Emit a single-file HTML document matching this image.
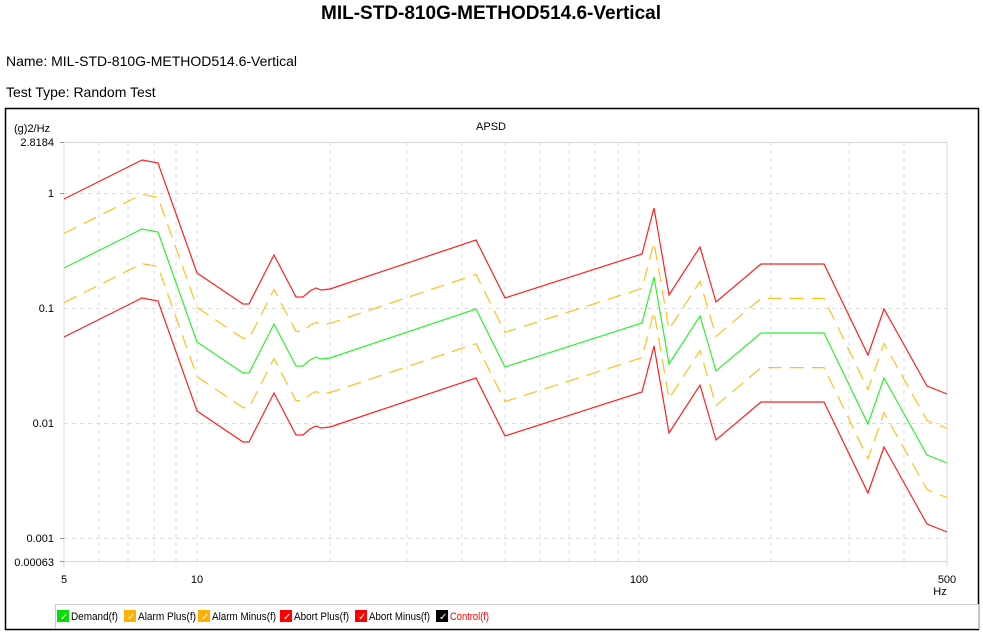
<!DOCTYPE html>
<html><head><meta charset="utf-8"><style>
body{margin:0;background:#fff;width:983px;height:632px;overflow:hidden;font-family:"Liberation Sans",sans-serif}
</style></head><body>
<svg width="983" height="632" xmlns="http://www.w3.org/2000/svg" font-family="Liberation Sans, sans-serif">
<text x="491" y="19" text-anchor="middle" font-size="19" font-weight="bold">MIL-STD-810G-METHOD514.6-Vertical</text>
<text x="6" y="66" font-size="14">Name: MIL-STD-810G-METHOD514.6-Vertical</text>
<text x="6" y="97" font-size="14">Test Type: Random Test</text>
<rect x="5.5" y="108.5" width="973" height="521" fill="none" stroke="#000" stroke-width="1.5"/>
<text x="491" y="130" text-anchor="middle" font-size="11">APSD</text>
<text x="14" y="132" font-size="11">(g)2/Hz</text>
<g font-size="11" text-anchor="end">
<text x="54" y="146">2.8184</text><text x="54" y="197">1</text><text x="54" y="312">0.1</text><text x="54" y="427">0.01</text><text x="54" y="542">0.001</text><text x="54" y="566">0.00063</text>
</g>
<g font-size="11" text-anchor="middle">
<text x="64" y="583">5</text><text x="197" y="583">10</text><text x="639" y="583">100</text><text x="947" y="583">500</text><text x="940" y="595">Hz</text>
</g>
<g stroke="#dcdcdc" stroke-width="1" stroke-dasharray="4 4" fill="none">
<path d="M64 193.5H947M64 308.5H947M64 423.5H947M64 538.5H947"/>
<path d="M99 142V567M128 142V567M154 142V567M176 142V567M197 142V567M330 142V567M407 142V567M462 142V567M505 142V567M540 142V567M569 142V567M595 142V567M618 142V567M639 142V567M771 142V567M849 142V567M904 142V567"/>
</g>
<path d="M64 142.5H947M64 561.5H947M64 142V567M947 142V567" stroke="#d8d8d8" fill="none"/>
<path d="M60 193.5h4M60 538.5h4M60 561.5h4M60 142.5h4" stroke="#999"/>
<defs><path id="d" d="M64 268L142 229L158 232L197 342L243 373L249 373L274 324L296 366L303 366L310 360L316 357L321 359L330 358L476 309L505 367L642 323L654 277L669 364L700 316L716 371L761 333L824 333L868 424L884 378L927 455L947 463"/></defs>
<g fill="none" stroke-width="1.2">
<use href="#d" stroke="#ff2020" transform="translate(0,-69)"/>
<use href="#d" stroke="#ff2020" transform="translate(0,69)"/>
<use href="#d" stroke="#ffc020" stroke-dasharray="14 8" transform="translate(0,-34.6)"/>
<use href="#d" stroke="#ffc020" stroke-dasharray="14 8" transform="translate(0,34.6)"/>
<use href="#d" stroke="#30f030"/>
</g>
<rect x="55.5" y="604.5" width="923" height="24" fill="#fff" stroke="#ccc"/>
<g font-size="11">
<rect x="57" y="610" width="12" height="12" fill="#00e000"/><text x="60" y="620" fill="#fff" font-size="10">✓</text><text x="71" y="620" textLength="47" lengthAdjust="spacingAndGlyphs">Demand(f)</text>
<rect x="124" y="610" width="12" height="12" fill="#ffb000"/><text x="127" y="620" fill="#fff" font-size="10">✓</text><text x="138" y="620" textLength="58" lengthAdjust="spacingAndGlyphs">Alarm Plus(f)</text>
<rect x="198" y="610" width="12" height="12" fill="#ffb000"/><text x="201" y="620" fill="#fff" font-size="10">✓</text><text x="212" y="620" textLength="64" lengthAdjust="spacingAndGlyphs">Alarm Minus(f)</text>
<rect x="280" y="610" width="12" height="12" fill="#ff0000"/><text x="283" y="620" fill="#fff" font-size="10">✓</text><text x="294" y="620" textLength="55" lengthAdjust="spacingAndGlyphs">Abort Plus(f)</text>
<rect x="355" y="610" width="12" height="12" fill="#ff0000"/><text x="358" y="620" fill="#fff" font-size="10">✓</text><text x="369" y="620" textLength="61" lengthAdjust="spacingAndGlyphs">Abort Minus(f)</text>
<rect x="436" y="610" width="12" height="12" fill="#000"/><text x="439" y="620" fill="#fff" font-size="10">✓</text><text x="450" y="620" fill="#ff0000" textLength="39" lengthAdjust="spacingAndGlyphs">Control(f)</text>
</g>
</svg>
</body></html>
